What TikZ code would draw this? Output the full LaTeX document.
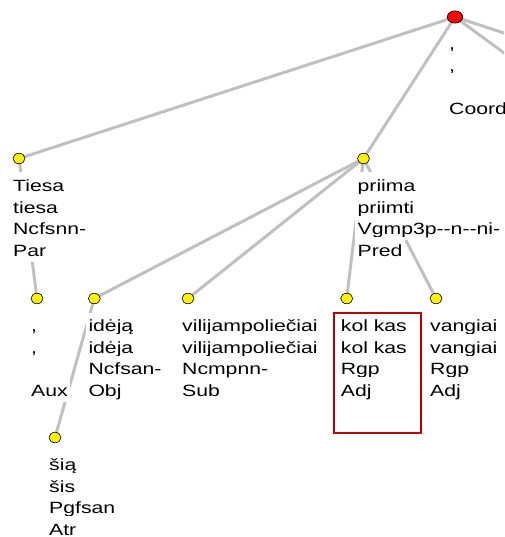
\documentclass[tikz,border=0pt]{standalone}
\usepackage{fontspec}
\setmainfont{Liberation Sans}[FakeStretch=1.3, Ligatures=TeXOff]
\usetikzlibrary{shapes.geometric}
\definecolor{lgray}{RGB}{192,192,192}
\definecolor{hlred}{RGB}{192,0,0}
\tikzset{
  edge/.style={draw=lgray, line width=3pt},
  dot/.style={ellipse, draw=black, line width=0.6pt, fill=yellow, minimum width=12pt, minimum height=10.5pt, inner sep=0pt},
  rootdot/.style={dot, fill=red, minimum width=15.5pt, minimum height=12.3pt},
  lbl/.style={anchor=base west, fill=white, inner xsep=2.5pt, inner ysep=0pt, text height=19pt, text depth=5.5pt, font=\fontsize{16.3}{21.5}\selectfont},
  hlbox/.style={draw=hlred, line width=2pt, inner sep=0pt, anchor=north west}
}
\newcommand\wlab[5]{%
  \node[lbl] (#1-l1) at ([shift={(-8.5,33)}]#1) {#2};
  \node[lbl] (#1-l2) at ([shift={(-8.5,54.5)}]#1) {#3};
  \if\relax\detokenize{#4}\relax\else
  \node[lbl] (#1-l3) at ([shift={(-8.5,76)}]#1) {#4};\fi
  \node[lbl] (#1-l4) at ([shift={(-8.5,97.5)}]#1) {#5};
}
\begin{document}
\begin{tikzpicture}[x=1pt,y=-1pt]
\useasboundingbox (0,0) rectangle (504,537);
\clip (0,0) rectangle (504,537);
% positions
\coordinate (root) at (455,17);
\coordinate (tiesa) at (19,158.5);
\coordinate (priima) at (363.5,158.5);
\coordinate (comma) at (37,298.5);
\coordinate (ideja) at (94.3,298.5);
\coordinate (vili) at (188,298.5);
\coordinate (kolkas) at (346.7,298.5);
\coordinate (vangiai) at (436,298.5);
\coordinate (sia) at (55,437.5);
\coordinate (offa) at (560,51.3);
\coordinate (offb) at (560,94);
% edges
\draw[edge] (root) -- (tiesa);
\draw[edge] (root) -- (priima);
\draw[edge] (root) -- (offa);
\draw[edge] (root) -- (offb);
\draw[edge] (tiesa) -- (comma);
\draw[edge] (priima) -- (ideja);
\draw[edge] (priima) -- (vili);
\draw[edge] (priima) -- (kolkas);
\draw[edge] (priima) -- (vangiai);
\draw[edge] (ideja) -- (sia);
% labels
\wlab{root}{,}{,}{}{Coord}
\wlab{tiesa}{Tiesa}{tiesa}{Ncfsnn-}{Par}
\wlab{priima}{priima}{priimti}{Vgmp3p--n--ni-}{Pred}
\wlab{comma}{,}{,}{}{Aux}
\wlab{ideja}{idėją}{idėja}{Ncfsan-}{Obj}
\wlab{vili}{vilijampoliečiai}{vilijampoliečiai}{Ncmpnn-}{Sub}
\wlab{kolkas}{kol kas}{kol kas}{Rgp}{Adj}
\wlab{vangiai}{vangiai}{vangiai}{Rgp}{Adj}
\wlab{sia}{šią}{šis}{Pgfsan}{Atr}
% dots
\node[rootdot] (root-dot) at (root) {};
\foreach \n in {tiesa,priima,comma,ideja,vili,kolkas,vangiai,sia}
  \node[dot] (\n-dot) at (\n) {};
% highlight
\node[hlbox, minimum width=86.7pt, minimum height=120pt] (hl) at (333.3,311.7) {};
\end{tikzpicture}
\end{document}
